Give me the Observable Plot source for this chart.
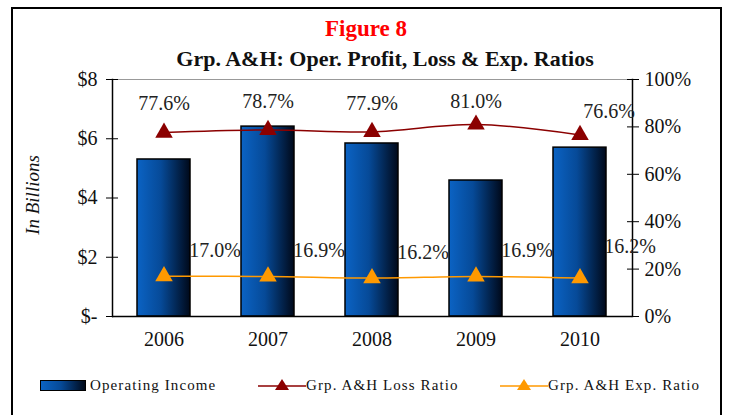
<!DOCTYPE html>
<html><head><meta charset="utf-8">
<script src="https://cdn.jsdelivr.net/npm/d3@7"></script>
<script src="https://cdn.jsdelivr.net/npm/@observablehq/plot@0.6"></script>
<style>
body{margin:0;background:#fff;font-family:"Liberation Serif","Times New Roman",serif;}
#wrap{position:relative;width:729px;height:415px;overflow:hidden;background:#fff;}
#frame{position:absolute;left:11px;top:7px;width:711px;height:430px;border:2px solid #000;box-sizing:border-box;}
#title{position:absolute;left:0;width:732px;top:16px;line-height:26px;text-align:center;font-weight:bold;font-size:23px;color:#ff0000;}
#subtitle{position:absolute;left:0;width:770px;top:46px;line-height:26px;text-align:center;font-weight:bold;font-size:22px;color:#111;}
#ylab{position:absolute;left:33px;top:195px;transform:translate(-50%,-50%) rotate(-90deg);font-style:italic;font-size:19px;color:#111;white-space:nowrap;}
#chart{position:absolute;left:0;top:66px;}
.leg{position:absolute;top:376px;height:18px;font-size:15px;letter-spacing:1.1px;color:#111;white-space:nowrap;display:flex;align-items:center;}
.sw{width:44px;height:9px;border:1px solid #000;background:linear-gradient(to right,#0b63c4,#064a98 45%,#00091a);margin-right:4px;}
</style></head><body>
<div id="wrap">
  <div id="frame"></div>
  <div id="title">Figure 8</div>
  <div id="subtitle">Grp. A&amp;H: Oper. Profit, Loss &amp; Exp. Ratios</div>
  <div id="ylab">In Billions</div>
  <div id="chart"></div>
  <div class="leg" style="left:40px"><div class="sw"></div>Operating Income</div>
  <div class="leg" style="left:258px"><svg width="48" height="16"><line x1="0" y1="9" x2="48" y2="9" stroke="#8b0000" stroke-width="1.5"/><path d="M24,2 L31,13 L17,13 Z" fill="#8b0000"/></svg>Grp. A&amp;H Loss Ratio</div>
  <div class="leg" style="left:500px"><svg width="48" height="16"><line x1="0" y1="9" x2="48" y2="9" stroke="#ff9900" stroke-width="1.5"/><path d="M24,2 L31,13 L17,13 Z" fill="#ff9900"/></svg>Grp. A&amp;H Exp. Ratio</div>
</div>
<script>
const years = ["2006","2007","2008","2009","2010"];
const operatingIncome = [5.30, 6.41, 5.84, 4.59, 5.70];
const lossRatio = [77.6, 78.7, 77.9, 81.0, 76.6];
const expRatio = [17.0, 16.9, 16.2, 16.9, 16.2];
const leftTickValues = [0, 2, 4, 6, 8];
const leftTickLabels = ["$-", "$2", "$4", "$6", "$8"];
const rightTickValues = [0, 20, 40, 60, 80, 100];
const rightTickLabels = ["0%", "20%", "40%", "60%", "80%", "100%"];

const yMax = 8;
const toY = p => p / 100 * yMax;
const rows = years.map((y, i) => ({year: y, income: operatingIncome[i], loss: lossRatio[i], exp: expRatio[i]}));
const rightTicksY = rightTickValues.map(toY);

// label offsets (styling)
const lossOffsets = [[0, -29], [0, -28], [0, -28], [0, -23], [29, -23]];
const expOffsets = [[51, -26], [51, -26], [51, -26], [51, -26], [50, -32]];
const labelFont = 20;

const labelMarks = [];
rows.forEach((r, i) => {
  labelMarks.push(Plot.text([r], {x: "year", y: d => toY(d.loss), text: d => d.loss.toFixed(1) + "%", dx: lossOffsets[i][0], dy: lossOffsets[i][1], fontSize: labelFont, fill: "#222"}));
  labelMarks.push(Plot.text([r], {x: "year", y: d => toY(d.exp), text: d => d.exp.toFixed(1) + "%", dx: expOffsets[i][0], dy: expOffsets[i][1], fontSize: labelFont, fill: "#222"}));
});

const chart = Plot.plot({
  width: 729, height: 300,
  marginTop: 13, marginBottom: 50, marginLeft: 112, marginRight: 97,
  style: {fontFamily: "Liberation Serif, Times New Roman, serif", fontSize: "20px", color: "#111", background: "transparent", overflow: "visible"},
  x: {domain: years, type: "band", paddingInner: 0.49, paddingOuter: 0.245},
  y: {domain: [0, yMax]},
  marks: [
    Plot.ruleY([yMax], {stroke: "#999", strokeWidth: 1}),
    Plot.barY(rows, {x: "year", y: "income", fill: "url(#barGrad)", stroke: "#000", strokeWidth: 1.5}),
    Plot.ruleY([0], {stroke: "#000", strokeWidth: 1.5}),
    Plot.frame({anchor: "left", stroke: "#000", strokeWidth: 1.5}),
    Plot.frame({anchor: "right", stroke: "#000", strokeWidth: 1.5}),
    Plot.axisY({anchor: "left", ticks: leftTickValues, tickSize: 12, dx: 6, tickFormat: () => "", label: null, stroke: "#000"}),
    Plot.axisY({anchor: "left", ticks: leftTickValues, tickSize: 0, tickPadding: 15, tickFormat: d => leftTickLabels[leftTickValues.indexOf(d)], label: null, fontSize: 20}),
    Plot.axisY({anchor: "right", ticks: rightTicksY, tickSize: 12, dx: -6, tickFormat: () => "", label: null, stroke: "#000"}),
    Plot.axisY({anchor: "right", ticks: rightTicksY, tickSize: 0, tickPadding: 12, tickFormat: d => rightTickLabels[rightTicksY.indexOf(d)], label: null, fontSize: 20}),
    Plot.axisX({tickSize: 0, tickPadding: 15, label: null, fontSize: 20}),
    Plot.lineY(rows, {x: "year", y: d => toY(d.loss), stroke: "#8b0000", strokeWidth: 1.5, curve: "catmull-rom"}),
    Plot.lineY(rows, {x: "year", y: d => toY(d.exp), stroke: "#ff9900", strokeWidth: 1.5, curve: "catmull-rom"}),
    Plot.dot(rows, {x: "year", y: d => toY(d.loss), symbol: "triangle", r: 6.5, fill: "#8b0000"}),
    Plot.dot(rows, {x: "year", y: d => toY(d.exp), symbol: "triangle", r: 6.5, fill: "#ff9900"}),
    ...labelMarks
  ]
});
const defs = d3.select(chart).insert("defs", ":first-child");
const g = defs.append("linearGradient").attr("id", "barGrad").attr("x1", "0").attr("x2", "1").attr("y1", "0").attr("y2", "0");
g.append("stop").attr("offset", "0%").attr("stop-color", "#0b63c4");
g.append("stop").attr("offset", "45%").attr("stop-color", "#064a98");
g.append("stop").attr("offset", "100%").attr("stop-color", "#00091a");
document.getElementById("chart").appendChild(chart);
</script>
</body></html>
